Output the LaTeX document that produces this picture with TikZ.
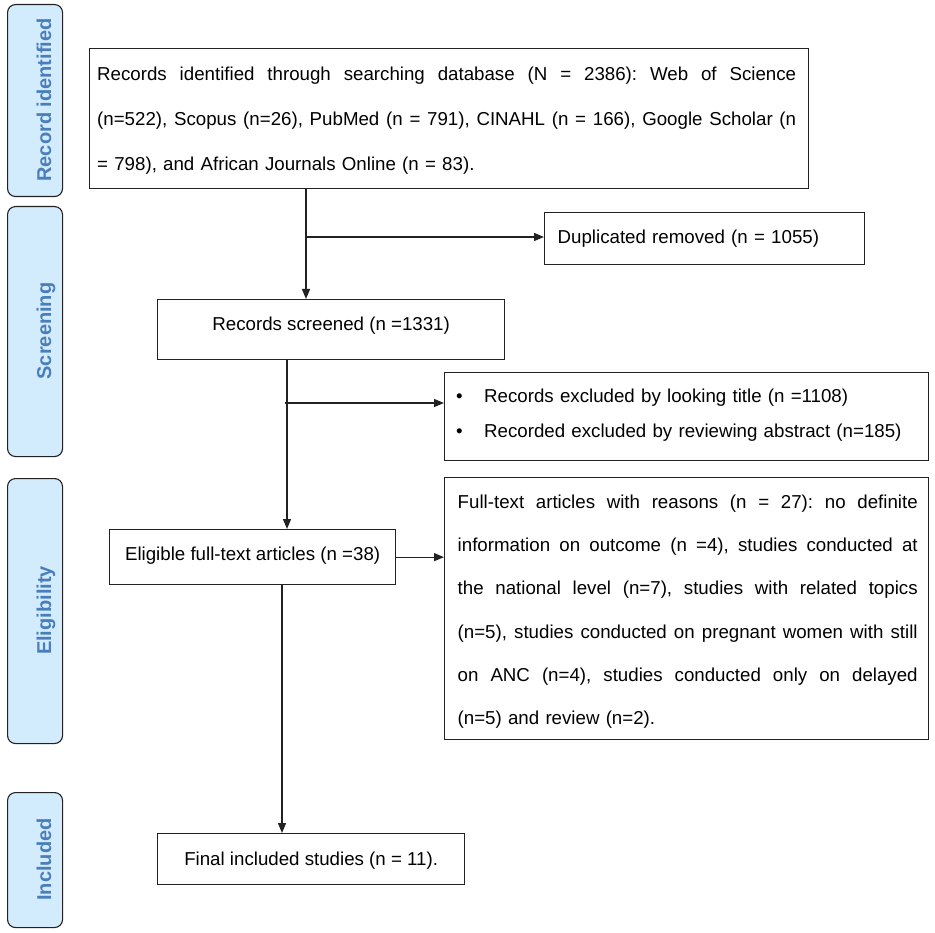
\documentclass[tikz,border=0pt]{standalone}
\usepackage{fontspec}
\setmainfont{Liberation Sans}
\usetikzlibrary{arrows.meta}
\definecolor{barfill}{HTML}{D3ECFD}
\definecolor{bartext}{HTML}{4A7EBB}
\definecolor{ink}{HTML}{222222}
% justified line of given width: all interword spaces stretch equally
\newcommand\jline[2]{\leavevmode\hbox to #1{\frenchspacing\spaceskip=\fontdimen2\font plus 1fil\relax #2}}
\begin{document}
\begin{tikzpicture}[x=1pt,y=-1pt,
  font=\fontsize{18.7}{22}\selectfont,
  stage/.style={draw=ink, line width=1.1pt, fill=barfill, rounded corners=8pt, minimum width=55pt, anchor=north west, inner sep=0pt},
  stagetext/.style={rotate=90, anchor=base, text=bartext, font=\fontsize{20}{24}\selectfont\bfseries},
  box/.style={draw=ink, line width=1.3pt, inner sep=0pt, anchor=north west},
  txt/.style={inner sep=0pt, align=left, anchor=north west},
  conn/.style={draw=ink, line width=1.3pt},
  arr/.style={conn, -{Triangle[length=10pt,width=8pt]}}]
\useasboundingbox (0,0) rectangle (935,933);

% stage bars
\node[stage, minimum height=192pt] (s1) at (7,4) {};
\node[stagetext] (t1) at (51,100) {Record identified};
\node[stage, minimum height=250pt] (s2) at (7,206) {};
\node[stagetext] (t2) at (51,331) {Screening};
\node[stage, minimum height=265pt] (s3) at (7,478) {};
\node[stagetext] (t3) at (51,610.5) {Eligibility};
\node[stage, minimum height=135pt] (s4) at (7,792) {};
\node[stagetext] (t4) at (51,859.5) {Included};

% records identified
\node[box, minimum width=719pt, minimum height=140pt] (rec) at (89,48) {};
\node[txt, text width=699pt, font=\fontsize{18.7}{45.4}\selectfont] (rectext) at (97,65)
 {\rule{0pt}{15pt}\jline{699pt}{Records identified through searching database (N = 2386): Web of Science}\\
  \jline{699pt}{(n=522), Scopus (n=26), PubMed (n = 791), CINAHL (n = 166), Google Scholar (n}\\
  = 798), and African Journals Online (n = 83).};

% duplicates
\node[box, minimum width=320pt, minimum height=52pt, text width=294pt, align=left,
      text height=13.5pt, text depth=3.5pt] (dup) at (544,212)
 {Duplicated removed (n = 1055)};

% screened
\node[box, minimum width=347pt, minimum height=60pt, align=center,
      text height=8pt, text depth=6pt] (scr) at (157,299)
 {Records screened (n =1331)};

% excluded
\node[box, minimum width=484pt, minimum height=88pt] (exc) at (444,372) {};
\node[txt, text width=460pt, font=\fontsize{18.7}{35}\selectfont] (exctext) at (456,387.5)
 {\rule{0pt}{15pt}\makebox[28pt][l]{\textbullet}Records excluded by looking title (n =1108)\\
  \makebox[28pt][l]{\textbullet}Recorded excluded by reviewing abstract (n=185)};

% eligible
\node[box, minimum width=286pt, minimum height=55pt, align=center,
      text height=10pt, text depth=3pt] (elig) at (109,529)
 {Eligible full-text articles (n =38)};

% full-text excluded
\node[box, minimum width=484pt, minimum height=262pt] (full) at (444,477) {};
\node[txt, text width=460pt, font=\fontsize{18.7}{43.3}\selectfont] (fulltext) at (457.5,493)
 {\rule{0pt}{15pt}\jline{460pt}{Full-text articles with reasons (n = 27): no definite}\\
  \jline{460pt}{information on outcome (n =4), studies conducted at}\\
  \jline{460pt}{the national level (n=7), studies with related topics}\\
  \jline{460pt}{(n=5), studies conducted on pregnant women with still}\\
  \jline{460pt}{on ANC (n=4), studies conducted only on delayed}\\
  (n=5) and review (n=2).};

% final
\node[box, minimum width=307pt, minimum height=51pt, align=center,
      text height=15pt, text depth=1.4pt] (fin) at (157,833)
 {Final included studies (n = 11).};

% connectors
\coordinate (c1) at (306,237);
\coordinate (c2) at (285,403);
\coordinate (v2) at (287,0);
\coordinate (v3) at (282,0);
\draw[arr] (rec.south -| c1) -- (scr.north -| c1);
\draw[arr] (c1) -- (c1 -| dup.west);
\draw[arr] (scr.south -| v2) -- (elig.north -| v2);
\draw[arr] (c2) -- (c2 -| exc.west);
\draw[arr] (elig.east) -- (elig.east -| full.west);
\draw[arr] (elig.south -| v3) -- (fin.north -| v3);
\end{tikzpicture}
\end{document}
